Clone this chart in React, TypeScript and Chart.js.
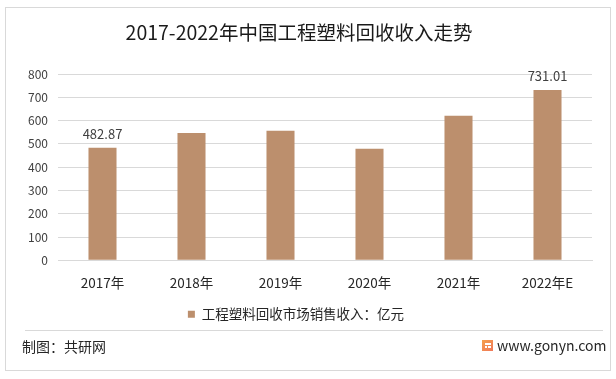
import React, { useEffect, useRef } from "react";
import { Chart, registerables } from "chart.js";

Chart.register(...registerables);

const TITLE = "2017-2022年中国工程塑料回收收入走势";
const categories = ["2017年", "2018年", "2019年", "2020年", "2021年", "2022年E"];
const revenue = [482.87, 547, 556, 479, 621, 731.01];
const labelledIdx = [0, 5];
const seriesName = "工程塑料回收市场销售收入：亿元";
const footerLeft = "制图：共研网";
const footerRight = "www.gonyn.com";

const FONT = '"Noto Sans CJK SC", "Noto Sans", sans-serif';
const BAR = "#BC8F6D";

export default function App() {
  const ref = useRef<HTMLCanvasElement>(null);
  useEffect(() => {
    const canvas = ref.current!;
    const deco = {
      id: "deco",
      beforeDraw(chart: any) {
        const c = chart.ctx;
        c.save();
        c.fillStyle = "#ffffff";
        c.fillRect(0, 0, chart.width, chart.height);
        c.strokeStyle = "#d9d9d9";
        c.lineWidth = 1;
        c.strokeRect(5.5, 7.5, 605, 363);
        c.beginPath();
        c.moveTo(25, 330.5);
        c.lineTo(603, 330.5);
        c.stroke();
        c.fillStyle = "#1a1a1a";
        c.font = `19.5px ${FONT}`;
        c.textAlign = "center";
        c.textBaseline = "middle";
        c.fillText(TITLE, 299, 33);
        c.font = `14px ${FONT}`;
        c.textAlign = "left";
        c.fillStyle = "#262626";
        c.fillText(footerLeft, 22, 347);
        c.fillText(footerRight, 497, 346);
        const g = c.createLinearGradient(482, 340, 492, 351);
        g.addColorStop(0, "#f5a04a");
        g.addColorStop(1, "#f07a5a");
        c.fillStyle = g;
        c.fillRect(482, 340, 11, 11);
        c.fillStyle = "#ffffff";
        c.fillRect(485, 343, 6, 2);
        c.fillRect(485, 346, 2, 2);
        c.fillRect(488, 346, 3, 2);
        c.restore();
      },
      afterDatasetsDraw(chart: any) {
        const c = chart.ctx;
        const meta = chart.getDatasetMeta(0);
        c.save();
        c.font = `13px ${FONT}`;
        c.fillStyle = "#404040";
        c.textAlign = "center";
        c.textBaseline = "middle";
        labelledIdx.forEach((i) => {
          const el = meta.data[i];
          c.fillText(revenue[i].toFixed(2), el.x, el.y - 14);
        });
        c.restore();
      },
    };
    const chart = new Chart(canvas, {
      type: "bar",
      data: {
        labels: categories,
        datasets: [
          {
            label: seriesName,
            data: revenue,
            backgroundColor: BAR,
            borderWidth: 0,
            categoryPercentage: 1,
            barPercentage: 0.315,
          },
        ],
      },
      options: {
        responsive: false,
        animation: false,
        devicePixelRatio: 1,
        layout: { padding: { left: 0, right: 24, top: 74, bottom: 48 } },
        plugins: {
          title: { display: false },
          tooltip: { enabled: false },
          legend: {
            position: "bottom",
            labels: {
              boxWidth: 7,
              boxHeight: 7,
              padding: 3,
              color: "#262626",
              font: { family: FONT, size: 13.5 },
            },
          },
        },
        scales: {
          x: {
            grid: { display: false, drawTicks: false },
            border: { display: true, color: "#d9d9d9" },
            ticks: { color: "#262626", padding: 14, font: { family: FONT, size: 13.5 } },
          },
          y: {
            min: 0,
            max: 800,
            afterFit: (s: any) => {
              s.width = 58;
            },
            grid: { color: "#d9d9d9", drawTicks: false },
            border: { display: false },
            ticks: { stepSize: 100, padding: 10, color: "#404040", font: { family: FONT, size: 12 } },
          },
        },
      },
      plugins: [deco],
    });
    return () => chart.destroy();
  }, []);
  return (
    <div style={{ position: "fixed", left: 0, top: 0, width: 616, height: 379, background: "#fff" }}>
      <canvas ref={ref} width={616} height={379} style={{ width: 616, height: 379 }} />
    </div>
  );
}
